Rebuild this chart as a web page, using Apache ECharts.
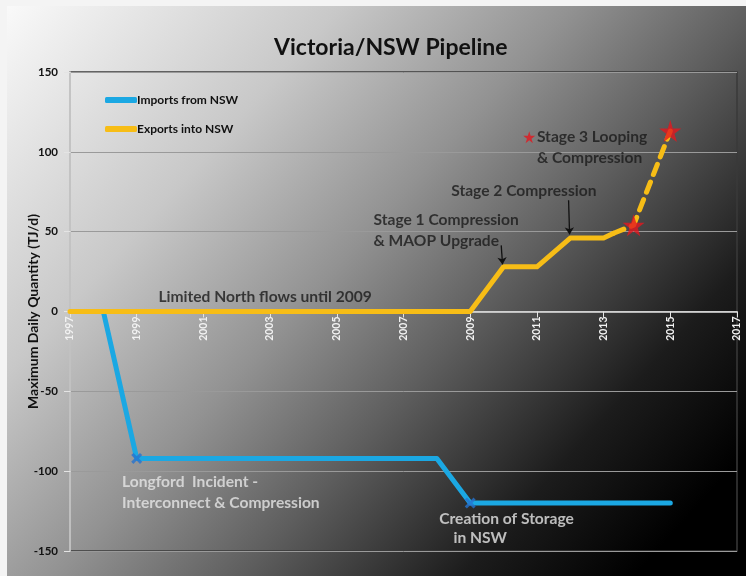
<!DOCTYPE html>
<html><head><meta charset="utf-8">
<script src="https://cdn.jsdelivr.net/npm/echarts@6/dist/echarts.min.js"></script>
<style>html,body{margin:0;padding:0;background:#fff}#c{width:746px;height:576px}</style>
</head><body><div id="c"></div>
<script>
// ---- data ----
const importsNSW = [[1998,0],[1999,-92],[2008,-92],[2009,-120],[2015,-120]];
const exportsSolid = [[1997,0],[2009,0],[2010,28],[2011,28],[2012,46],[2013,46],[2013.3,49]];
const exportsPlanned = [[2013.3,49],[2013.9,54],[2015,113]];
const importMarkers = [[1999,-92],[2009,-120]];
const stageStars = [[2013.9,54],[2015,113]];
const noteStar = [[2010.77,109.2]];
const yMin = -150, yMax = 150, yStep = 50;
const xMin = 1997, xMax = 2017, xStep = 2;
const darkNotes = [
  [1999.65, 9.4, 'Limited North flows until 2009'],
  [2006.1, 50.5, 'Stage 1 Compression\n& MAOP Upgrade'],
  [2008.43, 75.3, 'Stage 2 Compression'],
  [2011.0, 102.6, 'Stage 3 Looping\n& Compression']
];
const lightNotes = [
  [1998.56, -113.6, 'Longford  Incident -\nInterconnect & Compression'],
  [2008.07, -130, 'Creation of Storage'],
  [2008.5, -141.9, 'in NSW']
];
const arrows = [[[2009.93,41.4],[2009.97,29.5]], [[2011.95,69.7],[2011.98,48.3]]];

// ---- chart ----
const FONT = 'Lato';
const starPath = 'path://M50,0 L61,35 L98,35 L68,57 L79,91 L50,70 L21,91 L32,57 L2,35 L39,35 Z';
const xPath = 'path://M2,0 L5,3 L8,0 L10,2 L7,5 L10,8 L8,10 L5,7 L2,10 L0,8 L3,5 L0,2 Z';
const BLUE = '#1ba8e3', YELLOW = '#f7bd16';
const GRID = {left: 70, right: 9, top: 72, bottom: 25};
const plotH = 576 - GRID.top - GRID.bottom;
const zeroOffset = -plotH * (0 - yMin) / (yMax - yMin);

function noteSeries(list, color) {
  return {
    type: 'scatter', symbolSize: 0, silent: true, z: 6,
    data: list.map(n => ({value: [n[0], n[1]], label: {formatter: n[2]}})),
    label: {show: true, position: [0, 0], align: 'left', verticalAlign: 'middle',
      color: color, fontFamily: FONT, fontWeight: 'bold', fontSize: 15.6, lineHeight: 21}
  };
}

const chart = echarts.init(document.getElementById('c'));
chart.setOption({
  animation: false,
  backgroundColor: new echarts.graphic.LinearGradient(0, 0, 0.85, 1, [
    {offset: 0, color: '#fbfbfb'}, {offset: 0.3, color: '#c8c8c8'},
    {offset: 0.5, color: '#929292'}, {offset: 0.66, color: '#5e5e5e'},
    {offset: 0.85, color: '#1c1c1c'}, {offset: 1, color: '#000'}]),
  title: {text: 'Victoria/NSW Pipeline', left: 269, top: 31,
    textStyle: {fontFamily: FONT, fontWeight: 'bold', fontSize: 23, color: '#111'}},
  legend: {orient: 'vertical', left: 100, top: 89, itemGap: 17, itemWidth: 32, itemHeight: 6,
    icon: 'roundRect', data: ['Imports from NSW', 'Exports into NSW'],
    textStyle: {fontFamily: FONT, fontWeight: 'bold', fontSize: 12, color: '#111', padding: [0,0,0,-5]}},
  grid: Object.assign({show: true, borderColor: '#3a3a3a', borderWidth: 1.5,
    backgroundColor: 'transparent', outerBoundsMode: 'none', containLabel: false}, GRID),
  xAxis: {type: 'value', min: xMin, max: xMax, interval: xStep, offset: zeroOffset,
    axisLine: {onZero: false, lineStyle: {color: '#e4e4e4', width: 1.5}},
    axisTick: {show: true, length: 6, lineStyle: {color: '#e4e4e4'}},
    axisLabel: {rotate: 90, color: '#f2f2f2', fontFamily: FONT, fontWeight: 'bold', fontSize: 10.5, margin: 5,
      formatter: v => String(v)},
    splitLine: {show: false}},
  yAxis: {type: 'value', min: yMin, max: yMax, interval: yStep,
    name: 'Maximum Daily Quantity (TJ/d)', nameLocation: 'middle', nameRotate: 90, nameGap: 30,
    nameMoveOverlap: false,
    nameTextStyle: {fontFamily: FONT, fontWeight: 'bold', fontSize: 14, color: '#111'},
    axisLine: {show: true, onZero: false, lineStyle: {color: '#e4e4e4', width: 1.5}},
    axisTick: {show: true, length: 6, lineStyle: {color: '#e4e4e4'}},
    axisLabel: {color: '#111', fontFamily: FONT, fontWeight: 'bold', fontSize: 11.5, margin: 12},
    splitLine: {show: true, lineStyle: {color: '#9a9a9a', width: 1}}},
  series: [
    {name: 'Imports from NSW', type: 'line', data: importsNSW, showSymbol: false, z: 3,
      color: BLUE, lineStyle: {color: BLUE, width: 5, cap: 'round', join: 'round'}},
    {name: 'Exports into NSW', type: 'line', data: exportsSolid, showSymbol: false, z: 3,
      color: YELLOW, lineStyle: {color: YELLOW, width: 5, cap: 'round', join: 'round'}},
    {name: 'Exports planned', type: 'line', data: exportsPlanned, showSymbol: false, z: 3,
      color: YELLOW, lineStyle: {color: YELLOW, width: 5, type: [11, 8], cap: 'round', join: 'round'}},
    {name: 'import events', type: 'scatter', data: importMarkers, symbol: xPath, symbolSize: 11, z: 4,
      itemStyle: {color: '#2573cf'}},
    {name: 'stage 3', type: 'scatter', data: stageStars, symbol: starPath, symbolSize: 22, z: 5,
      itemStyle: {color: '#e3161e'}},
    {name: 'note star', type: 'scatter', data: noteStar, symbol: starPath, symbolSize: 12, z: 5,
      itemStyle: {color: '#e3161e'}},
    {name: 'arrows', type: 'lines', coordinateSystem: 'cartesian2d', z: 5, silent: true,
      symbol: ['none', 'arrow'], symbolSize: 7,
      lineStyle: {color: '#111', width: 1.3, opacity: 1},
      data: arrows.map(a => ({coords: a}))},
    noteSeries(darkNotes, '#1a1a1a'),
    noteSeries(lightNotes, '#e6e6e6')
  ],
  graphic: [
    {type: 'rect', shape: {x: 0, y: 0, width: 746, height: 6}, style: {fill: '#f4f4f4'}, silent: true},
    {type: 'rect', shape: {x: 0, y: 0, width: 7, height: 576}, style: {fill: '#f4f4f4'}, silent: true}
  ]
});
</script></body></html>
